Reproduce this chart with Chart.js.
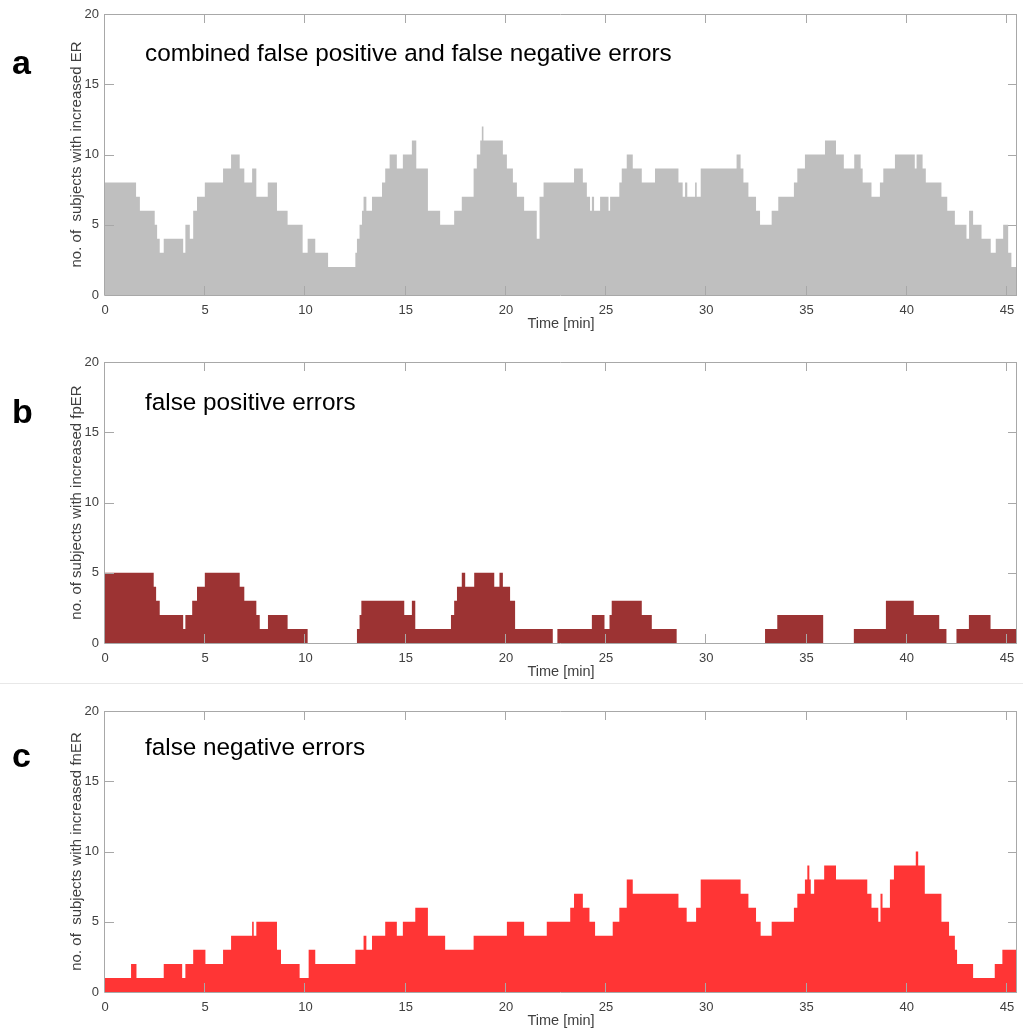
<!DOCTYPE html>
<html>
<head>
<meta charset="utf-8">
<script src="https://cdn.jsdelivr.net/npm/chart.js@4.4.0/dist/chart.umd.min.js"></script>
<style>
    html, body { margin: 0; padding: 0; background: #fff; overflow: hidden; }
    body { width: 1023px; height: 1034px; position: relative; font-family: "Liberation Sans", Arial, sans-serif; }
    .panel { position: absolute; left: 0; width: 1023px; height: 340px; }
    .letter { position: absolute; left: 12px; font-weight: bold; font-size: 34px; line-height: 34px; color: #000; }
    .title { position: absolute; left: 145px; font-size: 24.3px; line-height: 24px; color: #000; white-space: pre; }
    .sep { position: absolute; left: 0; width: 1023px; top: 683px; border-top: 1px solid #e8e8e8; }
</style>
</head>
<body>
<div class="panel" style="top:0px"><canvas id="chartA"></canvas></div>
<div class="panel" style="top:348px"><canvas id="chartB"></canvas></div>
<div class="sep"></div>
<div class="panel" style="top:697px"><canvas id="chartC"></canvas></div>

<div class="letter" style="top:45px">a</div>
<div class="letter" style="top:394px">b</div>
<div class="letter" style="top:738px">c</div>
<div class="title" style="top:41px">combined false positive and false negative errors</div>
<div class="title" style="top:390px">false positive errors</div>
<div class="title" style="top:735px">false negative errors</div>

<script>
/** shared axes */
var xTicks = [0, 5, 10, 15, 20, 25, 30, 35, 40, 45]
var yTicks = [0, 5, 10, 15, 20]
var timeEnd = 45.5

/** each step: [start time (min), no. of subjects] -- value holds until next step */
var stepsER = [
    [0, 8], [1.55, 7], [1.74, 6], [2.48, 5], [2.60, 4], [2.73, 3], [2.93, 4], [3.90, 3], [4.01, 5], [4.23, 4],
    [4.40, 6], [4.59, 7], [4.98, 8], [5.89, 9], [6.29, 10], [6.72, 9], [6.95, 8], [7.34, 9], [7.55, 7], [8.12, 8],
    [8.58, 6], [9.11, 5], [9.86, 3], [10.11, 4], [10.49, 3], [11.13, 2], [12.49, 3], [12.57, 4], [12.70, 5], [12.82, 6],
    [12.90, 7], [13.04, 6], [13.32, 7], [13.82, 8], [13.98, 9], [14.20, 10], [14.56, 9], [14.86, 10], [15.31, 11], [15.53, 9],
    [16.11, 6], [16.72, 5], [17.42, 6], [17.80, 7], [18.39, 9], [18.55, 10], [18.72, 11], [18.80, 12], [18.88, 11], [19.85, 10],
    [20.05, 9], [20.35, 8], [20.55, 7], [20.91, 6], [21.54, 4], [21.68, 7], [21.88, 8], [23.40, 9], [23.84, 8], [24.04, 7],
    [24.20, 6], [24.29, 7], [24.40, 6], [24.70, 7], [25.12, 6], [25.20, 7], [25.66, 8], [25.78, 9], [26.03, 10], [26.33, 9],
    [26.78, 8], [27.44, 9], [28.61, 8], [28.82, 7], [28.94, 8], [29.05, 7], [29.44, 8], [29.52, 7], [29.72, 9], [31.51, 10],
    [31.71, 9], [31.85, 8], [32.10, 7], [32.48, 6], [32.68, 5], [33.26, 6], [33.59, 7], [34.37, 8], [34.54, 9], [34.92, 10],
    [35.92, 11], [36.47, 10], [36.86, 9], [37.38, 10], [37.70, 9], [37.80, 8], [38.24, 7], [38.66, 8], [38.83, 9], [39.41, 10],
    [40.40, 9], [40.49, 10], [40.79, 9], [40.95, 8], [41.73, 7], [42.02, 6], [42.40, 5], [42.98, 4], [43.11, 6], [43.31, 5],
    [43.73, 4], [44.19, 3], [44.44, 4], [44.81, 5], [45.06, 3], [45.22, 2]
]
var stepsFpER = [
    [0, 5], [2.43, 4], [2.55, 3], [2.73, 2], [3.90, 1], [4.01, 2], [4.35, 3], [4.59, 4], [4.98, 5], [6.72, 4],
    [6.95, 3], [7.55, 2], [7.72, 1], [8.13, 2], [9.11, 1], [10.11, 0], [12.57, 1], [12.70, 2], [12.79, 3], [14.93, 2],
    [15.31, 3], [15.48, 1], [17.26, 2], [17.42, 3], [17.56, 4], [17.80, 5], [17.97, 4], [18.42, 5], [19.42, 4], [19.68, 5],
    [19.85, 4], [20.21, 3], [20.46, 1], [22.34, 0], [22.57, 1], [24.29, 2], [24.92, 1], [25.17, 2], [25.28, 3], [26.78, 2],
    [27.28, 1], [28.52, 0], [32.93, 1], [33.54, 2], [35.83, 0], [37.36, 1], [38.96, 3], [40.35, 2], [41.62, 1], [41.98, 0],
    [42.48, 1], [43.10, 2], [44.18, 1]
]
var stepsFnER = [
    [0, 1], [1.30, 2], [1.57, 1], [2.93, 2], [3.85, 1], [4.01, 2], [4.40, 3], [5.01, 2], [5.89, 3], [6.29, 4],
    [7.34, 5], [7.42, 4], [7.55, 5], [8.58, 3], [8.78, 2], [9.71, 1], [10.16, 3], [10.49, 2], [12.49, 3], [12.90, 4],
    [13.04, 3], [13.32, 4], [13.98, 5], [14.56, 4], [14.86, 5], [15.48, 6], [16.11, 4], [16.97, 3], [18.39, 4], [20.05, 5],
    [20.91, 4], [22.04, 5], [23.21, 6], [23.40, 7], [23.84, 6], [24.17, 5], [24.45, 4], [25.33, 5], [25.66, 6], [26.03, 8],
    [26.33, 7], [28.61, 6], [29.02, 5], [29.49, 6], [29.72, 8], [31.71, 7], [32.10, 6], [32.48, 5], [32.71, 4], [33.26, 5],
    [34.37, 6], [34.54, 7], [34.92, 8], [35.04, 9], [35.14, 8], [35.21, 7], [35.38, 8], [35.88, 9], [36.47, 8], [38.03, 7],
    [38.24, 6], [38.58, 5], [38.69, 7], [38.79, 6], [39.16, 8], [39.36, 9], [40.45, 10], [40.57, 9], [40.90, 7], [41.73, 5],
    [42.11, 4], [42.40, 3], [42.51, 2], [43.31, 1], [44.39, 2], [44.77, 3]
]

var errorPanels = {
    fontFamily: '"Liberation Sans", Arial, sans-serif',
    textColor: '#404040',
    axisColor: '#a8a8a8',
    init: function () {
        errorPanels.funcs.createChart('chartA', stepsER, '#bfbfbf', 'no. of  subjects with increased ER')
        errorPanels.funcs.createChart('chartB', stepsFpER, '#9c3333', 'no. of subjects with increased fpER')
        errorPanels.funcs.createChart('chartC', stepsFnER, '#ff3535', 'no. of  subjects with increased fnER')
    },
    funcs: {
        /** step list -> points, last value is held to the end of the record */
        toPoints: function (steps) {
            var pts = steps.map(function (s) { return { x: s[0], y: s[1] } })
            pts.push({ x: timeEnd, y: steps[steps.length - 1][1] })
            return pts
        },
        /** box round the plot with inward ticks, like the matlab axes */
        boxPlugin: {
            id: 'boxPlugin',
            afterDatasetsDraw: function (chart) {
                var a = chart.chartArea
                var ctx = chart.ctx
                var xs = chart.scales.x
                var ys = chart.scales.y
                ctx.save()
                ctx.strokeStyle = errorPanels.axisColor
                ctx.lineWidth = 1
                ctx.beginPath()
                ctx.rect(a.left - 0.5, a.top + 0.5, a.right - a.left, a.bottom - a.top)
                xTicks.forEach(function (v) {
                    var px = Math.round(xs.getPixelForValue(v)) - 0.5
                    ctx.moveTo(px, a.bottom); ctx.lineTo(px, a.bottom - 9)
                    ctx.moveTo(px, a.top); ctx.lineTo(px, a.top + 9)
                })
                yTicks.forEach(function (v) {
                    var py = Math.round(ys.getPixelForValue(v)) + 0.5
                    ctx.moveTo(a.left, py); ctx.lineTo(a.left + 9, py)
                    ctx.moveTo(a.right, py); ctx.lineTo(a.right - 9, py)
                })
                ctx.stroke()
                ctx.restore()
            }
        },
        createChart: function (id, steps, color, yTitle) {
            var ctx = document.getElementById(id).getContext('2d')
            var font = { family: errorPanels.fontFamily, size: 13 }
            return new Chart(ctx, {
                type: 'line',
                data: {
                    datasets: [{
                        data: errorPanels.funcs.toPoints(steps),
                        stepped: true,
                        fill: 'origin',
                        backgroundColor: color,
                        borderColor: 'rgba(0,0,0,0)',
                        borderWidth: 0,
                        pointRadius: 0
                    }]
                },
                options: {
                    responsive: true,
                    maintainAspectRatio: false,
                    animation: false,
                    layout: { padding: { top: 14, right: 6, left: 65, bottom: 0 } },
                    plugins: { legend: { display: false }, tooltip: { enabled: false } },
                    scales: {
                        x: {
                            type: 'linear', min: 0, max: timeEnd,
                            afterFit: function (s) { s.height = 45 },
                            afterBuildTicks: function (s) { s.ticks = xTicks.map(function (v) { return { value: v } }) },
                            grid: { display: false, drawTicks: false },
                            border: { display: false },
                            ticks: { padding: 8, color: errorPanels.textColor, font: font, maxRotation: 0, autoSkip: false },
                            title: {
                                display: true, text: 'Time [min]', color: errorPanels.textColor,
                                font: { family: errorPanels.fontFamily, size: 14.5 }, padding: { top: 0, bottom: 7 }
                            }
                        },
                        y: {
                            min: 0, max: 20,
                            afterFit: function (s) { s.width = 40 },
                            afterBuildTicks: function (s) { s.ticks = yTicks.map(function (v) { return { value: v } }) },
                            grid: { display: false, drawTicks: false },
                            border: { display: false },
                            ticks: { padding: 6, color: errorPanels.textColor, font: font },
                            title: {
                                display: true, text: yTitle, color: errorPanels.textColor,
                                font: { family: errorPanels.fontFamily, size: 15 }, padding: { top: 3, bottom: 0 }
                            }
                        }
                    }
                },
                plugins: [errorPanels.funcs.boxPlugin]
            })
        }
    }
}

errorPanels.init()
</script>
</body>
</html>
